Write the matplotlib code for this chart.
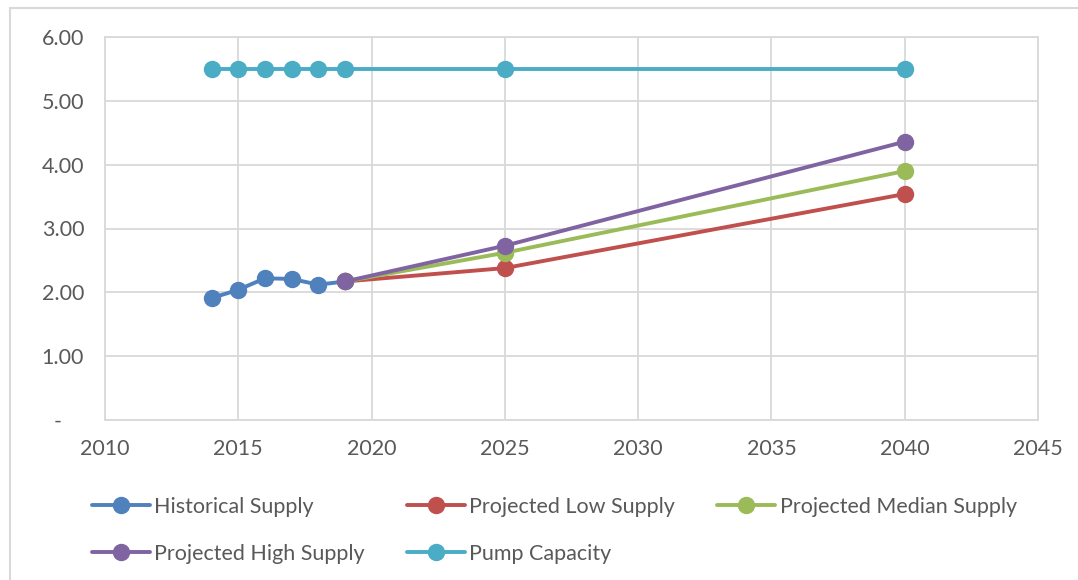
import matplotlib.pyplot as plt
from matplotlib.patches import Rectangle

hist_years = [2014, 2015, 2016, 2017, 2018, 2019]
hist_supply = [1.91, 2.04, 2.22, 2.21, 2.12, 2.17]

proj_years = [2019, 2025, 2040]
low_supply = [2.17, 2.38, 3.54]
median_supply = [2.17, 2.62, 3.90]
high_supply = [2.17, 2.73, 4.36]

pump_years = [2014, 2015, 2016, 2017, 2018, 2019, 2025, 2040]
pump_capacity = [5.50] * 8

y_labels = ['-    ', '1.00', '2.00', '3.00', '4.00', '5.00', '6.00']

plt.rcParams['font.family'] = ['Lato', 'DejaVu Sans']

fig = plt.figure(figsize=(10.78, 5.80), dpi=100)
ax = fig.add_axes([105 / 1078, 1 - 420 / 580, 933 / 1078, 383 / 580])

# outer chart frame
fig.patches.append(Rectangle((10 / 1078, -0.1), 1.2, 1.1 - 8 / 580, transform=fig.transFigure,
                             fill=False, edgecolor='#d9d9d9', linewidth=1.5))

style = dict(marker='o', markersize=11.5, linewidth=2.8, solid_capstyle='round')
l1, = ax.plot(hist_years, hist_supply, color='#4F81BD', label='Historical Supply', **style)
l2, = ax.plot(proj_years, low_supply, color='#C0504D', label='Projected Low Supply', **style)
l3, = ax.plot(proj_years, median_supply, color='#9BBB59', label='Projected Median Supply', **style)
l4, = ax.plot(proj_years, high_supply, color='#8064A2', label='Projected High Supply', **style)
l5, = ax.plot(pump_years, pump_capacity, color='#4BACC6', label='Pump Capacity', **style)

ax.set_xlim(2010, 2045)
ax.set_ylim(0, 6)
ax.set_xticks(range(2010, 2046, 5))
ax.set_yticks(range(0, 7))
ax.set_yticklabels(y_labels)
ax.grid(True, color='#d9d9d9', linewidth=1.3)
ax.set_axisbelow(True)
for s in ax.spines.values():
    s.set_color('#d9d9d9')
    s.set_linewidth(1.3)
ax.tick_params(length=0, labelsize=15.5, labelcolor='#595959')
ax.tick_params(axis='x', pad=14)
ax.tick_params(axis='y', pad=15)

handles = [l1, l4, l2, l5, l3]
fig.legend(handles, [h.get_label() for h in handles],
           ncol=3, loc='upper left', bbox_to_anchor=(92 / 1078, 1 - 497 / 580),
           frameon=False, fontsize=15.5, labelcolor='#595959',
           handlelength=2.7, handletextpad=0.2, columnspacing=1.95,
           labelspacing=1.25, borderaxespad=0, borderpad=0)

fig.savefig('out.png', dpi=100)
